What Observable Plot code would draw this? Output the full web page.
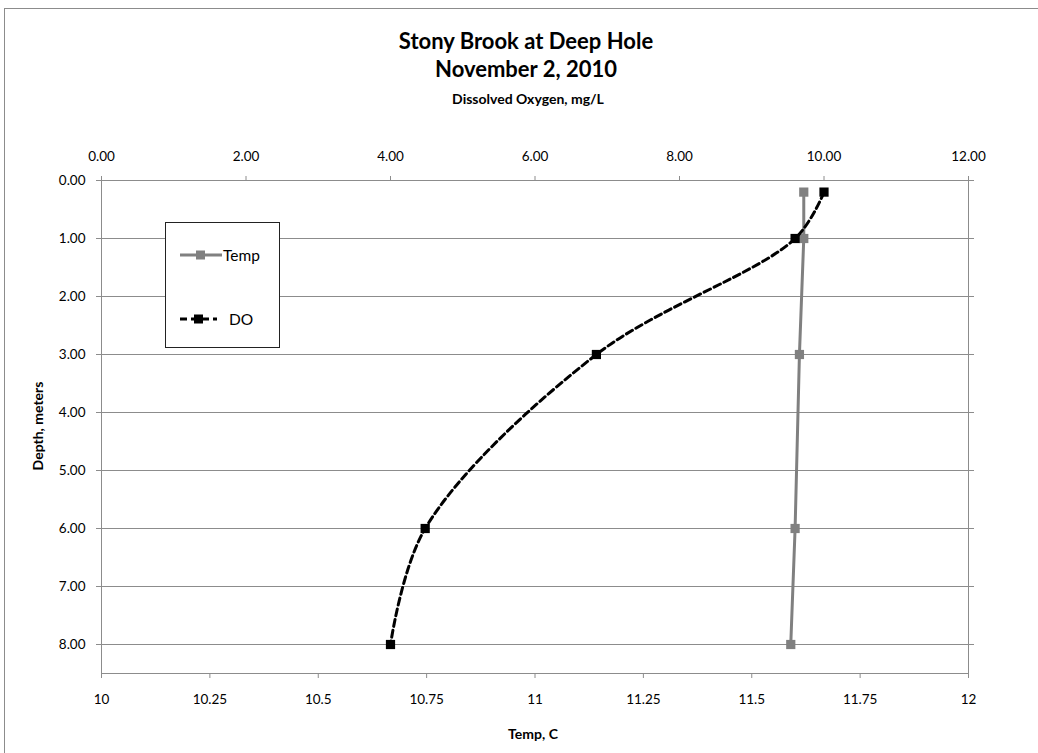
<!DOCTYPE html>
<html>
<head>
<meta charset="utf-8">
<script src="https://cdn.jsdelivr.net/npm/d3@7"></script>
<script src="https://cdn.jsdelivr.net/npm/@observablehq/plot@0.6"></script>
<style>
  body { margin: 0; background: #fff; font-family: Lato, "Open Sans", sans-serif; }
  #wrap { position: relative; width: 1038px; height: 753px; overflow: hidden; background: #fff; }
  #border { position: absolute; left: 4px; top: 8px; width: 1100px; height: 800px; border-left: 1px solid #8c8c8c; border-top: 1px solid #8c8c8c; }
  .t { position: absolute; white-space: nowrap; color: #000; font-weight: bold; transform: translate(-50%, -50%); }
  #chart { position: absolute; left: 0; top: 0; }
  #legend { position: absolute; left: 165px; top: 222px; width: 113px; height: 124px; border: 1px solid #222; background: #fff; }
  #legend .row { position: absolute; left: 13px; display: flex; align-items: center; font-size: 15.5px; }
  #legend svg { display: block; }
</style>
</head>
<body>
<div id="wrap">
  <div id="border"></div>
  <div id="chart"></div>
  <div class="t" style="left:526px;top:40px;font-size:22px;">Stony Brook at Deep Hole</div>
  <div class="t" style="left:526px;top:68px;font-size:22px;">November 2, 2010</div>
  <div class="t" style="left:528px;top:98px;font-size:14px;">Dissolved Oxygen, mg/L</div>
  <div class="t" style="left:533px;top:733px;font-size:14px;">Temp, C</div>
  <div class="t" style="left:37px;top:426px;font-size:14px;transform:translate(-50%,-50%) rotate(-90deg);">Depth, meters</div>
  <div id="legend">
    <div class="row" style="top:20px;">
      <svg width="44" height="24"><line x1="1" y1="12" x2="43" y2="12" stroke="#808080" stroke-width="3"/><rect x="17" y="7.5" width="9" height="9" fill="#808080"/></svg><span id="lg1"></span>
    </div>
    <div class="row" style="top:84px;">
      <svg width="44" height="24"><line x1="1" y1="12" x2="38" y2="12" stroke="#000" stroke-width="3" stroke-dasharray="7,4"/><rect x="15" y="7.5" width="9" height="9" fill="#000"/></svg><span id="lg2" style="margin-left:6px"></span>
    </div>
  </div>
</div>
<script>
// ---- data ----
const seriesNames = ["Temp", "DO"];
const depth = [0.2, 1.0, 3.0, 6.0, 8.0];
const doValues = [10.0, 9.6, 6.85, 4.48, 4.0];
const tempValues = [11.62, 11.62, 11.61, 11.60, 11.59];
const doTicks = [0, 2, 4, 6, 8, 10, 12];
const tempTicks = [10, 10.25, 10.5, 10.75, 11, 11.25, 11.5, 11.75, 12];
const depthTicks = [0, 1, 2, 3, 4, 5, 6, 7, 8];

document.getElementById("lg1").textContent = seriesNames[0];
document.getElementById("lg2").textContent = seriesNames[1];

const rows = depth.map((d, i) => ({depth: d, DO: doValues[i], temp: tempValues[i]}));
// temperature axis (10..12) shares the DO scale (0..12)
const t2x = t => (t - 10) * 6;
const x2t = x => 10 + x / 6;

const grid = "#8c8c8c";

const chart = Plot.plot({
  width: 1038,
  height: 753,
  marginTop: 180,
  marginLeft: 101,
  marginRight: 70,
  marginBottom: 80,
  style: {fontFamily: "Lato, 'Open Sans', sans-serif", fontSize: "13.5px", color: "#000", background: "transparent", overflow: "visible"},
  x: {domain: [0, 12]},
  y: {domain: [0, 8.5], reverse: true},
  marks: [
    Plot.gridY(depthTicks, {stroke: grid, strokeOpacity: 1, strokeWidth: 1}),
    Plot.ruleX([0, 12], {stroke: grid, strokeWidth: 1}),
    Plot.ruleY([8.5], {stroke: grid, strokeWidth: 1}),
    Plot.axisY({ticks: depthTicks, anchor: "left", tickSize: 5, tickPadding: 11, tickFormat: d3.format(".2f"), label: null, stroke: grid, fill: "#000"}),
    Plot.axisY({ticks: depthTicks, anchor: "right", tickSize: 5, tickFormat: () => "", label: null, stroke: grid}),
    Plot.axisX({ticks: doTicks, anchor: "top", tickSize: 5, tickPadding: 15, tickFormat: d3.format(".2f"), label: null, stroke: grid, fill: "#000"}),
    Plot.axisX({ticks: tempTicks.map(t2x), anchor: "bottom", tickSize: 5, tickPadding: 16, tickFormat: d => String(+x2t(d).toFixed(2)), label: null, stroke: grid, fill: "#000"}),
    Plot.line(rows, {x: d => t2x(d.temp), y: "depth", stroke: "#808080", strokeWidth: 3}),
    Plot.dot(rows, {x: d => t2x(d.temp), y: "depth", symbol: "square", r: 5.2, fill: "#808080", stroke: "none"}),
    Plot.line(rows, {x: "DO", y: "depth", stroke: "#000", strokeWidth: 3, strokeDasharray: "7,4", curve: "catmull-rom"}),
    Plot.dot(rows, {x: "DO", y: "depth", symbol: "square", r: 5.2, fill: "#000", stroke: "none"})
  ]
});
document.getElementById("chart").appendChild(chart);
</script>
</body>
</html>
